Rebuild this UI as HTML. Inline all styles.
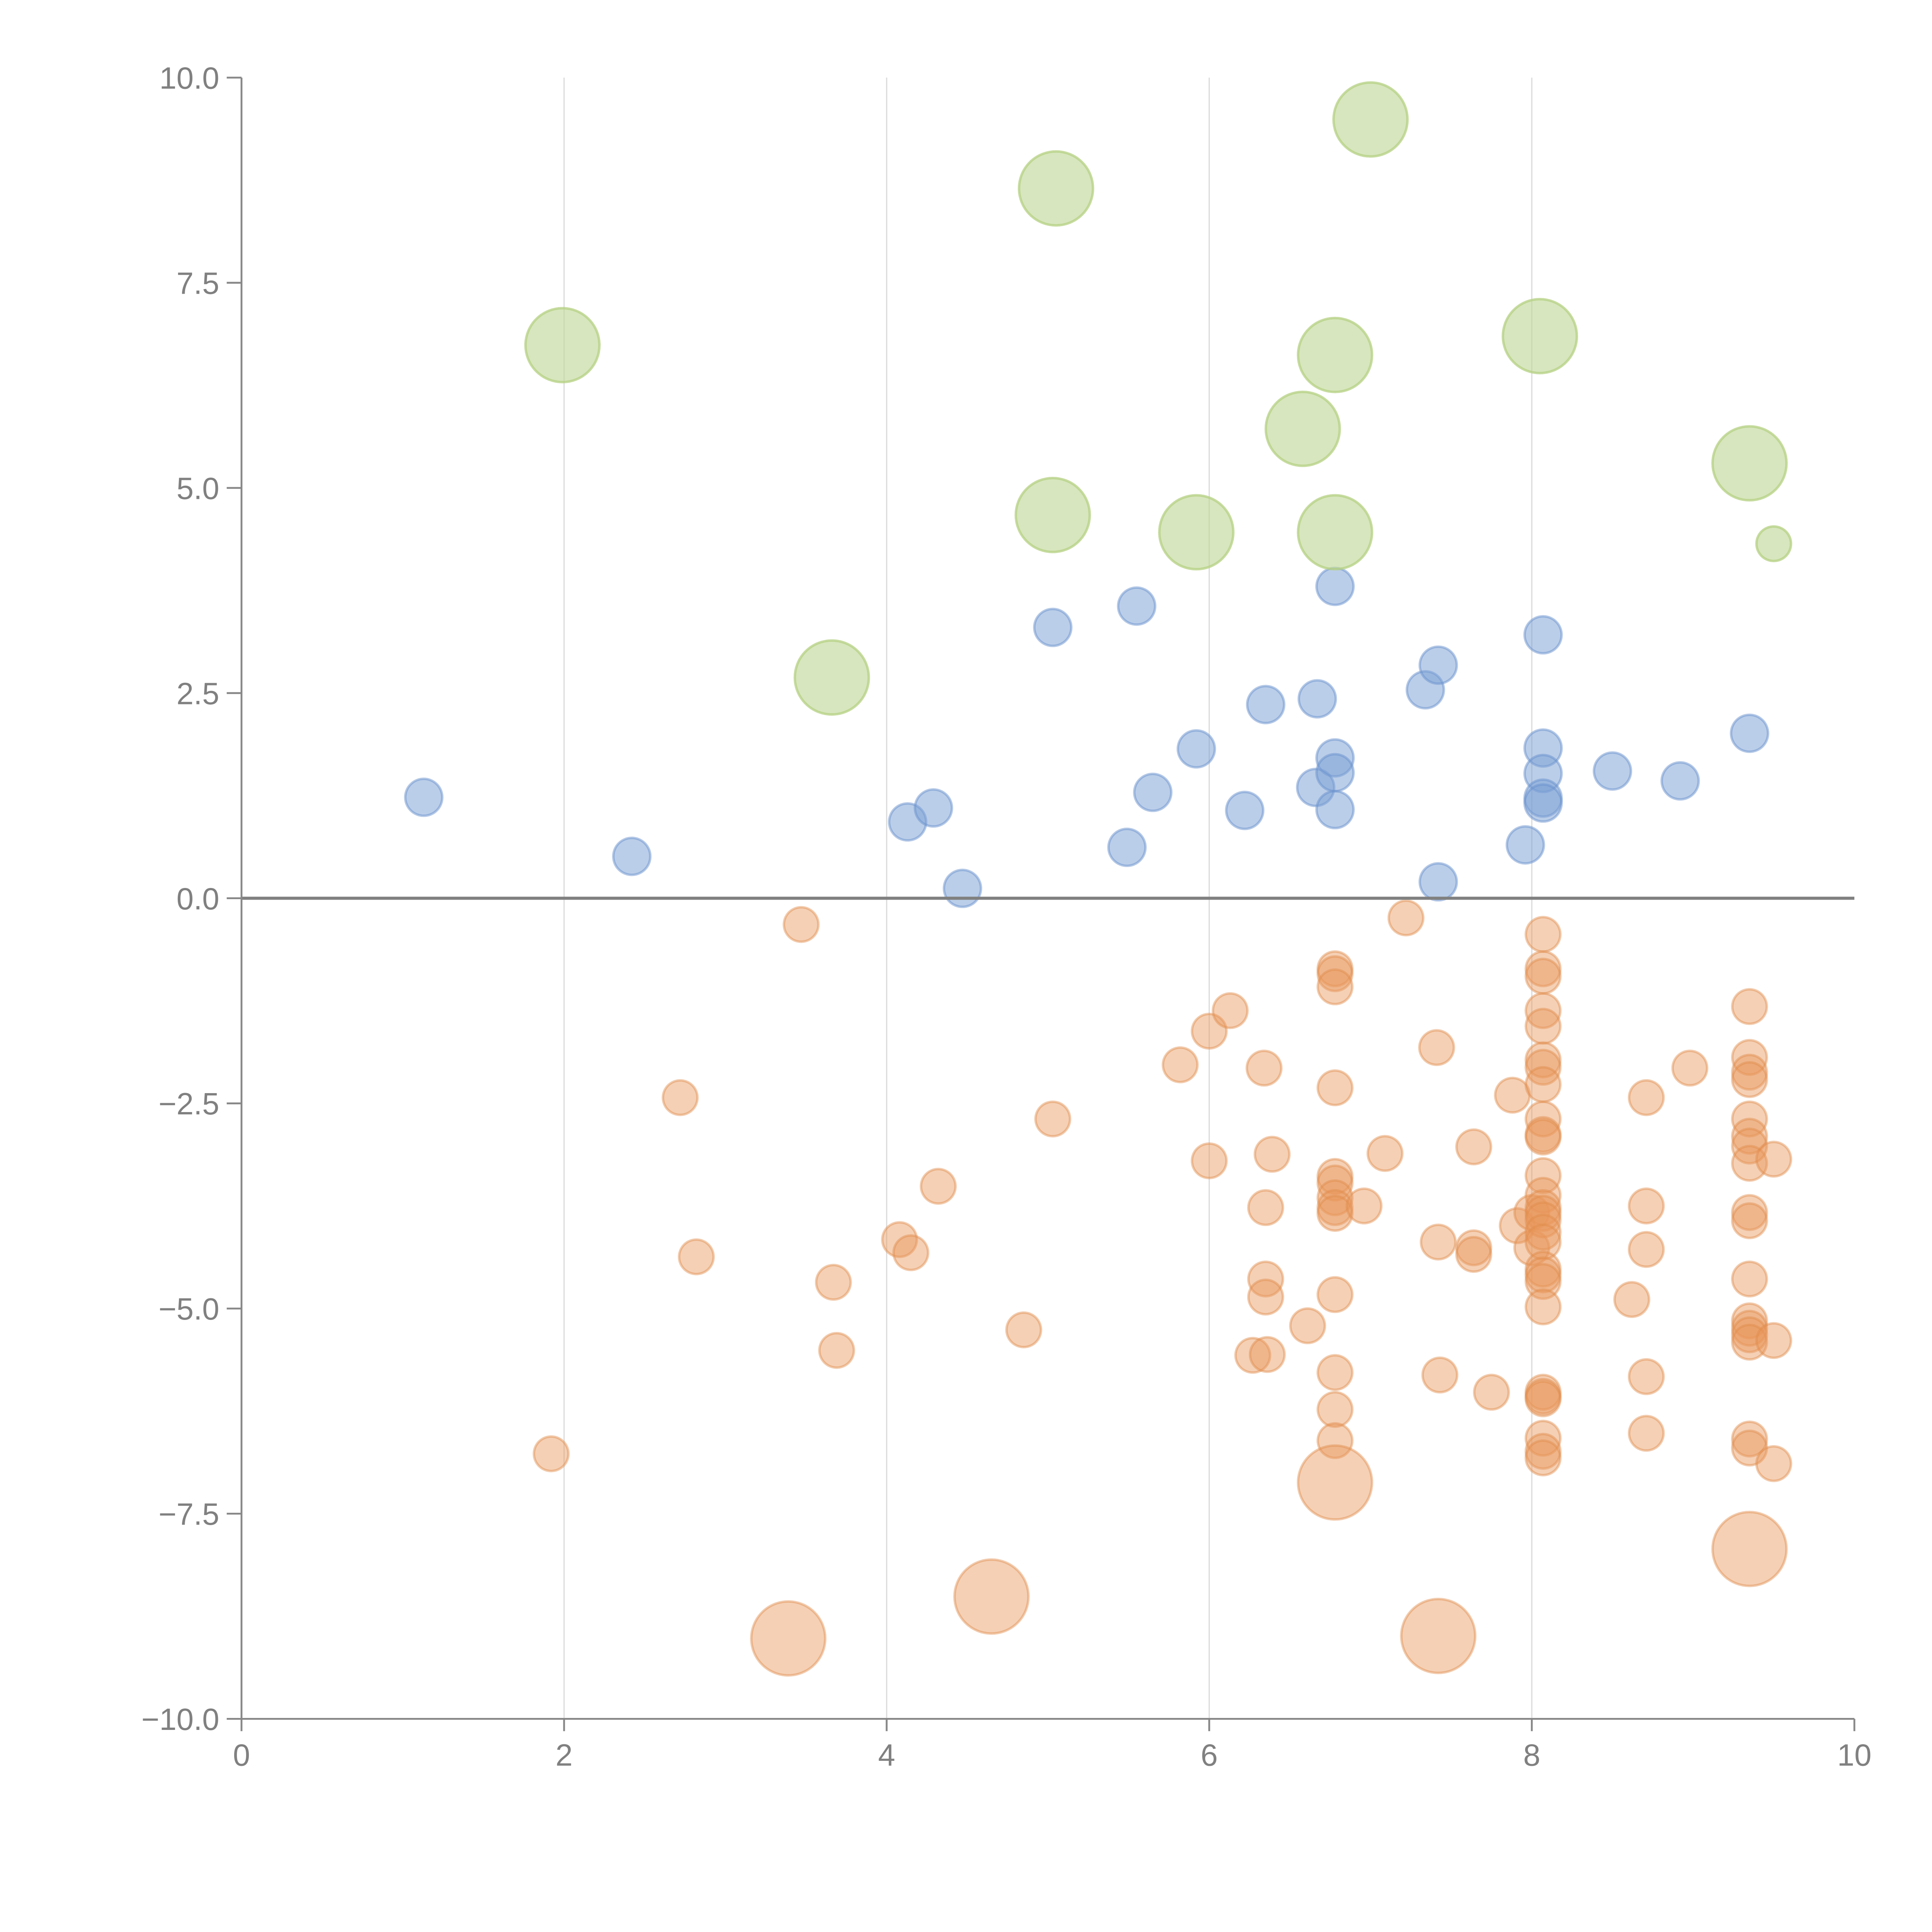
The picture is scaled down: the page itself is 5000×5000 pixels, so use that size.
<!DOCTYPE html>
<html><head><meta charset="utf-8"><style>
html,body{margin:0;padding:0;background:#fff;}
svg{display:block;}
text{font-family:"Liberation Sans",sans-serif;fill:#808080;font-size:25px;}
</style></head><body>
<svg id="chart" width="5000" height="5000" viewBox="0 0 1568 1568" xmlns="http://www.w3.org/2000/svg"></svg>
<script>
const xTicks=[0,2,4,6,8,10];
const xTickLabels=["0","2","4","6","8","10"];
const yTicks=[10,7.5,5,2.5,0,-2.5,-5,-7.5,-10];
const yTickLabels=["10.0","7.5","5.0","2.5","0.0","\u22122.5","\u22125.0","\u22127.5","\u221210.0"];

const greenX=[1.99,5.05,7.0,3.66,6.78,8.05,6.58,5.03,5.92,6.78,9.35,9.50];
const greenY=[6.74,8.65,9.49,2.69,6.62,6.85,5.72,4.67,4.46,4.46,5.30,4.32];
const greenR=[30,30,30,30,30,30,30,30,30,30,30,14];

const blueX=[1.13,2.42,4.13,4.29,4.47,5.03,5.55,5.49,5.65,5.92,6.22,6.35,6.67,6.66,6.78,6.78,6.78,6.78,7.34,7.42,7.42,8.07,8.07,8.07,8.07,8.07,7.96,8.50,8.92,9.35];
const blueY=[1.23,0.51,0.93,1.10,0.12,3.30,3.56,0.62,1.29,1.82,1.07,2.36,2.43,1.35,3.80,1.71,1.53,1.08,2.54,2.84,0.20,3.21,1.83,1.52,1.22,1.16,0.65,1.55,1.43,2.01];

const orangeX=[3.47,2.72,2.82,1.92,3.67,3.69,4.08,4.15,4.32,4.85,5.03,5.82,6.0,6.13,6.0,6.34,6.39,6.35,6.35,6.35,6.27,6.36,6.61,
6.78,6.78,6.78,6.78,6.78,6.78,6.78,6.78,6.78,6.96,6.78,6.78,6.78,6.78,7.09,7.22,7.41,7.42,7.43,7.64,7.64,7.64,7.75,7.88,7.91,8.0,8.0,
8.07,8.07,8.07,8.07,8.07,8.07,8.07,8.07,8.07,8.07,8.07,8.07,8.07,8.07,8.07,8.07,8.07,8.07,8.07,8.07,8.07,8.07,8.07,8.07,8.07,8.07,8.07,8.07,
8.62,8.71,8.71,8.71,8.71,8.71,8.98,
9.35,9.35,9.35,9.35,9.35,9.35,9.35,9.35,9.35,9.35,9.35,9.35,9.35,9.35,9.35,9.35,9.35,
9.50,9.50,9.50,
3.39,4.65,6.78,7.42,9.35];
const orangeY=[-0.32,-2.43,-4.37,-6.77,-4.68,-5.51,-4.16,-4.32,-3.51,-5.26,-2.69,-2.03,-1.62,-1.37,-3.20,-2.07,-3.12,-3.77,-4.64,-4.86,-5.57,-5.56,-5.21,
-0.86,-0.92,-1.08,-2.31,-3.39,-3.47,-3.65,-3.77,-3.84,-3.75,-4.83,-5.78,-6.23,-6.61,-3.11,-0.24,-1.82,-4.19,-5.81,-3.03,-4.26,-4.34,-6.02,-2.40,-3.99,-3.83,-4.26,
-0.44,-0.86,-0.95,-1.37,-1.56,-1.97,-2.06,-2.27,-2.69,-2.88,-2.91,-3.38,-3.62,-3.77,-3.84,-3.92,-4.07,-4.19,-4.52,-4.59,-4.67,-4.98,-6.02,-6.07,-6.10,-6.58,-6.74,-6.82,
-4.89,-2.43,-3.75,-4.28,-5.83,-6.52,-2.07,
-1.32,-1.94,-2.12,-2.21,-2.69,-2.90,-3.02,-3.23,-3.83,-3.93,-4.64,-5.15,-5.24,-5.32,-5.41,-6.59,-6.70,
-3.18,-5.39,-6.89,
-9.02,-8.51,-7.12,-8.99,-7.93];
const orangeR=orangeX.map((v,i)=> i>=orangeX.length-5 ? 30 : 14);
const blueR=blueX.map(()=>15);

const X0=196,X1=1505,Y0=1395,Y1=63;
const sx=v=>X0+(v-0)/(10-0)*(X1-X0);
const sy=v=>Y0-(v+10)/20*(Y0-Y1);
const svg=document.getElementById('chart');
const NS='http://www.w3.org/2000/svg';
function mk(tag,attrs,parent){const e=document.createElementNS(NS,tag);for(const k in attrs)e.setAttribute(k,attrs[k]);(parent||svg).appendChild(e);return e;}

xTicks.slice(1,-1).forEach(t=>{
  const g=mk('line',{x1:sx(t),x2:sx(t),y1:Y1,y2:Y0,stroke:'#dcdcdc','stroke-width':1});
  
  
});

function series(xs,ys,rs,fill,stroke,name){
  const g=mk('g',{});
  
  
  xs.forEach((x,i)=>{
    const c=mk('circle',{cx:sx(x),cy:sy(ys[i]),r:rs[i],fill:fill,stroke:stroke,'stroke-width':2},g);
    
    
  });
}
series(orangeX,orangeY,orangeR,'rgba(232,150,90,0.45)','rgba(225,140,75,0.45)','orange');
series(blueX,blueY,blueR,'rgba(120,158,212,0.5)','rgba(105,145,205,0.5)','blue');
series(greenX,greenY,greenR,'rgba(190,214,150,0.62)','rgba(180,208,130,0.75)','green');

const z=mk('line',{x1:X0,x2:X1,y1:sy(0),y2:sy(0),stroke:'#808080','stroke-width':2.5});



const ya=mk('line',{x1:X0,x2:X0,y1:Y1,y2:Y0,stroke:'#888','stroke-width':1.5});


const xa=mk('line',{x1:X0,x2:X1,y1:Y0,y2:Y0,stroke:'#888','stroke-width':1.5});



yTicks.forEach((t,i)=>{
  const l=mk('line',{x1:X0-12,x2:X0,y1:sy(t),y2:sy(t),stroke:'#888','stroke-width':1.5});
  
  
  const tx=mk('text',{x:X0-18,y:sy(t)+9,'text-anchor':'end'});
  tx.textContent=yTickLabels[i];
  
  
});
xTicks.forEach((t,i)=>{
  const l=mk('line',{x1:sx(t),x2:sx(t),y1:Y0,y2:Y0+10,stroke:'#888','stroke-width':1.5});
  
  
  const tx=mk('text',{x:sx(t),y:Y0+38,'text-anchor':'middle'});
  tx.textContent=xTickLabels[i];
  
  
});
</script>
</body></html>
